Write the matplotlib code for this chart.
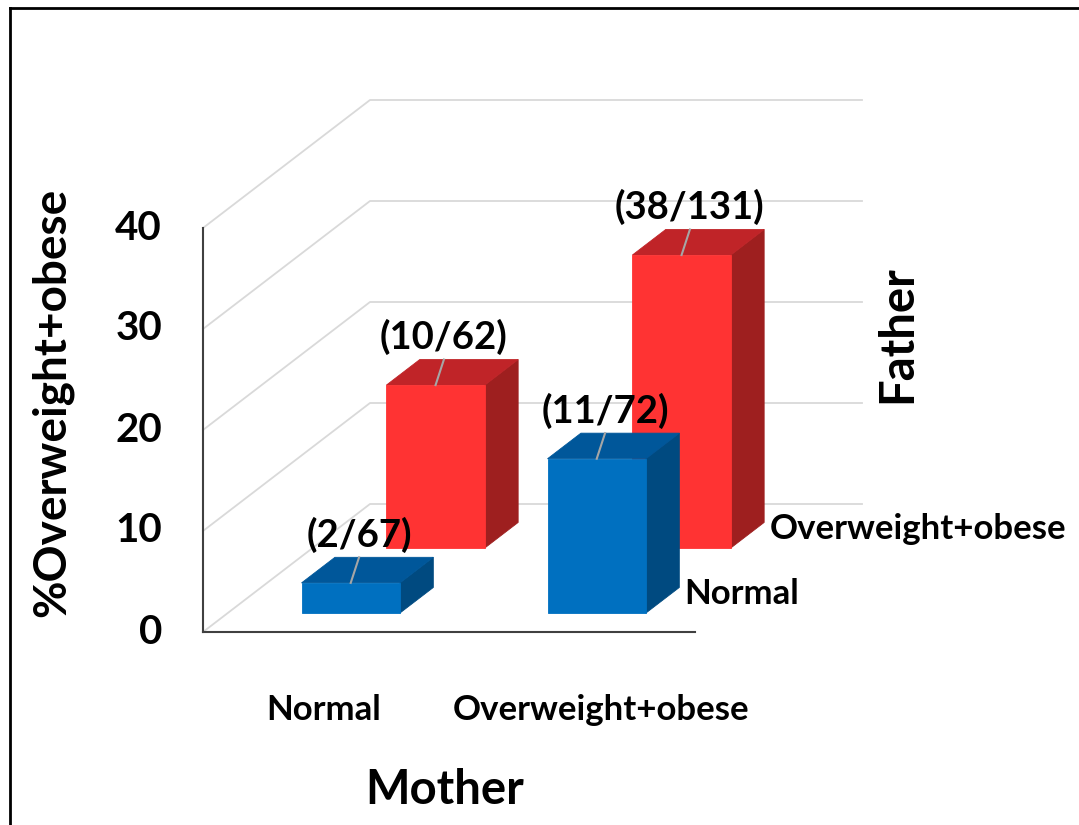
import numpy as np
import matplotlib.pyplot as plt
from matplotlib.patches import Polygon
from matplotlib.lines import Line2D

plt.rcParams['font.family'] = ['Lato', 'DejaVu Sans']
plt.rcParams['font.weight'] = 'bold'

mother = ['Normal', 'Overweight+obese']
father = ['Normal', 'Overweight+obese']
# counts (cases / total) for each father row, per mother category
cases = {'Normal': [2, 11], 'Overweight+obese': [10, 38]}
totals = {'Normal': [67, 72], 'Overweight+obese': [62, 131]}
yticks = [0, 10, 20, 30, 40]

front_cols = {'Normal': ('#0070C0', '#00579A', '#004A80'),
              'Overweight+obese': ('#FF3333', '#C02428', '#9E1F1F')}

W, H = 1079, 825
fig = plt.figure(figsize=(W / 100, H / 100), dpi=100)
ax = fig.add_axes([0, 0, 1, 1])

# pixel scale of the oblique projection
X0, Y0 = 203, 632          # front origin in pixels
PX, PY = 246.0, 10.1       # px per category unit / per percent
DX, DY = 167 / PX, 128 / PY  # full depth offset in data units
ax.set_xlim(-X0 / PX, (W - X0) / PX)
ax.set_ylim(-(H - Y0) / PY, Y0 / PY)
ax.axis('off')


def P(x, y, d):
    return (x + d * DX, y + d * DY)


ncat = len(mother)
top = yticks[-1]
grid_c = '#D9D9D9'

# back wall and side wall gridlines
for t in yticks:
    xs, ys = zip(P(0, t, 0), P(0, t, 1), P(ncat, t, 1))
    ax.plot(xs, ys, color=grid_c, lw=1.3, zorder=1)

# axes lines
ax.plot([0, 0], [0, top], color='#404040', lw=1.5, zorder=2)
ax.plot([0, ncat], [0, 0], color='#404040', lw=1.5, zorder=2)

bar_w = 0.4
bar_d = 0.2
row_front = {'Normal': 0.148, 'Overweight+obese': 0.656}

# draw back row first
for r in reversed(father):
    d0 = row_front[r]
    d1 = d0 + bar_d
    fc, tc, sc = front_cols[r]
    for i, m in enumerate(mother):
        v = cases[r][i] / totals[r][i] * 100
        x0 = i + 0.5 - bar_w / 2
        x1 = x0 + bar_w
        faces = [
            ([P(x1, 0, d0), P(x1, v, d0), P(x1, v, d1), P(x1, 0, d1)], sc),
            ([P(x0, v, d0), P(x1, v, d0), P(x1, v, d1), P(x0, v, d1)], tc),
            ([P(x0, 0, d0), P(x1, 0, d0), P(x1, v, d0), P(x0, v, d0)], fc),
        ]
        for pts, c in faces:
            ax.add_patch(Polygon(pts, closed=True, facecolor=c, edgecolor=c,
                                 lw=0.6, zorder=3))
        # label with leader line
        xc, yc = P(i + 0.5, v, d0)
        lx = xc + 0.25 * bar_d * DX
        ly = v + d1 * DY
        ax.plot([xc, lx], [yc, ly], color='#A6A6A6', lw=1.5, zorder=4)
        ax.text(lx, ly + 2.2, f'({cases[r][i]}/{totals[r][i]})', ha='center',
                va='center', fontsize=27.5, fontweight='bold', zorder=5)

# value axis tick labels
for t in yticks:
    ax.text(-41 / PX, t, str(t), ha='right', va='center', fontsize=29,
            fontweight='bold')

# category labels (mother)
mother_x = [0.49, 1.62]
for xp, m in zip(mother_x, mother):
    ax.text(xp, -78 / PY, m, ha='center', va='center', fontsize=25,
            fontweight='bold')

# series labels (father) along right floor edge
for r in father:
    dm = row_front[r] + bar_d / 2
    ex, ey = P(ncat, 0, dm)
    ax.text(ex - 52 / PX, ey + 6 / PY, r, ha='left', va='center',
            fontsize=25, fontweight='bold')

fig.text(52 / W, 1 - 402 / H, '%Overweight+obese', rotation=90, ha='center',
         va='center', fontsize=33, fontweight='bold')
fig.text(897 / W, 1 - 334 / H, 'Father', rotation=90, ha='center',
         va='center', fontsize=34, fontweight='bold')
fig.text(445 / W, 1 - 790 / H, 'Mother', ha='center', va='center',
         fontsize=34, fontweight='bold')

# outer frame (left and top edges visible)
fig.add_artist(Line2D([10 / W, 10 / W], [0, 1 - 8 / H], color='black', lw=2,
                      transform=fig.transFigure))
fig.add_artist(Line2D([10 / W, 1], [1 - 8 / H, 1 - 8 / H], color='black', lw=2,
                      transform=fig.transFigure))

fig.savefig('out.png', dpi=100)
